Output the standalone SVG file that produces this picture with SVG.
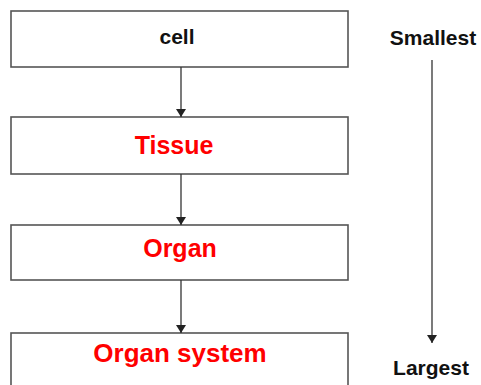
<svg xmlns="http://www.w3.org/2000/svg" width="481" height="385" viewBox="0 0 481 385">
<defs>
<marker id="ah" viewBox="0 0 8 10" refX="8" refY="5" markerWidth="8" markerHeight="10" markerUnits="userSpaceOnUse" orient="auto">
<path d="M0,0 L8,5 L0,10 Z" fill="#222"/>
</marker>
</defs>
<style>
.box{fill:#fff;stroke:#555;stroke-width:1.6}
.conn{stroke:#333;stroke-width:1.3;fill:none;marker-end:url(#ah)}
.red{font-family:"Liberation Sans",Arial,sans-serif;font-weight:bold;font-size:25px;fill:#ff0000;text-anchor:middle}
.blk{font-family:"Liberation Sans",Arial,sans-serif;font-weight:bold;font-size:21px;fill:#111;text-anchor:middle}
</style>
<rect width="481" height="385" fill="#fff"/>
<g id="node-cell">
<rect class="box" x="11" y="11" width="337" height="56"/>
<text class="blk" x="177" y="44">cell</text>
</g>
<g id="node-tissue">
<rect class="box" x="11" y="117" width="337" height="57"/>
<text class="red" x="174" y="154">Tissue</text>
</g>
<g id="node-organ">
<rect class="box" x="11" y="225" width="337" height="55"/>
<text class="red" x="180" y="257">Organ</text>
</g>
<g id="node-organ-system">
<rect class="box" x="11" y="333" width="337" height="70"/>
<text class="red" x="180" y="362" style="font-size:26px">Organ system</text>
</g>
<g id="label-smallest">
<text class="blk" x="433" y="45">Smallest</text>
</g>
<g id="label-largest">
<text class="blk" x="431" y="375">Largest</text>
</g>
<g id="connectors">
<line class="conn" x1="181" y1="67" x2="181" y2="117"/>
<line class="conn" x1="181" y1="174" x2="181" y2="225"/>
<line class="conn" x1="181" y1="280" x2="181" y2="333"/>
<line class="conn" x1="432" y1="60" x2="432" y2="343"/>
</g>
</svg>
